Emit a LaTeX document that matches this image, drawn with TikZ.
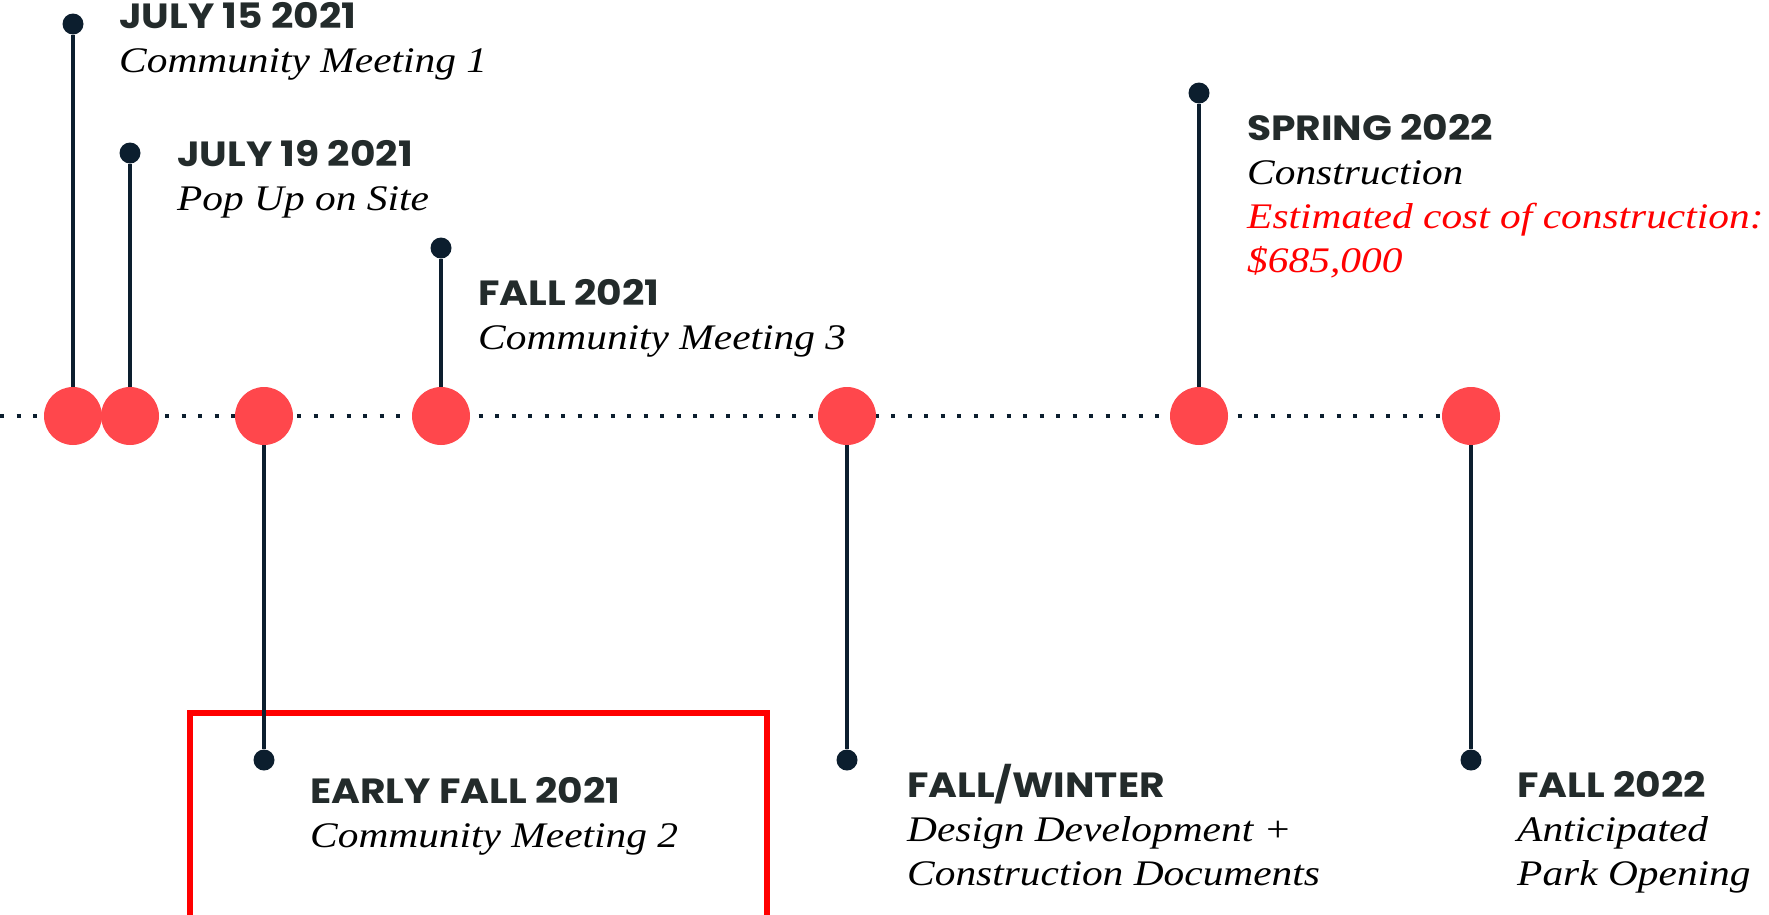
\documentclass[tikz,border=0pt]{standalone}
\usepackage{fontspec}
\newfontfamily\datefont{Poppins}[FakeStretch=1.12]
\newfontfamily\descfont{Liberation Serif}[FakeStretch=1.15]
\usetikzlibrary{backgrounds}
\definecolor{rouge}{HTML}{FF474C}
\definecolor{marine}{HTML}{0C1E2E}
\definecolor{ardoise}{HTML}{232B2B}
\definecolor{vif}{HTML}{FF0000}
\newcommand{\jalon}[1]{{\datefont\upshape\bfseries\fontsize{35}{44}\selectfont\color{ardoise}#1}}
\begin{document}
\begin{tikzpicture}[x=1pt, y=-1pt]
	\tikzset{noeud/.style={circle, fill=rouge, minimum size=58pt, inner sep=0pt},
	pastille/.style={circle, fill=marine, minimum size=21pt, inner sep=0pt},
	tige/.style={marine, line width=4.3pt},
	pointilles/.style={marine, line width=4pt, dash pattern=on 4pt off 12.5pt},
	etiquette/.style={anchor=base west, inner sep=0pt, font=\descfont\fontsize{36}{44}\selectfont\itshape}};

	\useasboundingbox (0,0) rectangle (1769,914);
	\coordinate (debut) at (0,416);

	\begin{pgfonlayer}{background}
		\draw[vif, line width=5.5pt] (190,930) -- (190,713) -- (767,713) -- (767,930);
	\end{pgfonlayer}

	\foreach \name/\x/\y in {a/73/24, b/130/153, c/264/760, d/441/248,
		e/847/760, f/1199/93, g/1471/760}{
			\node[noeud] (\name) at (\x, 416) {};
			\node[pastille] (p-\name) at (\x, \y) {};
			\begin{pgfonlayer}{background}
				\draw[tige] (p-\name) -- (\name);
			\end{pgfonlayer}
	}

	\begin{pgfonlayer}{background}
		\draw[pointilles] (debut) -- (g);
	\end{pgfonlayer}

	\node[etiquette] (t-a) at (119,28) {\begin{tabular}[t]{@{}l@{}}\jalon{JULY 15 2021}\\ Community Meeting 1\end{tabular}};
	\node[etiquette] (t-b) at (177,166) {\begin{tabular}[t]{@{}l@{}}\jalon{JULY 19 2021}\\ Pop Up on Site\end{tabular}};
	\node[etiquette] (t-d) at (478,305) {\begin{tabular}[t]{@{}l@{}}\jalon{FALL 2021}\\ Community Meeting 3\end{tabular}};
	\node[etiquette] (t-f) at (1247,140) {\begin{tabular}[t]{@{}l@{}}\jalon{SPRING 2022}\\ Construction\\
		\textcolor{vif}{Estimated cost of construction:}\\ \textcolor{vif}{\$685,000}\end{tabular}};
	\node[etiquette] (t-c) at (310,803) {\begin{tabular}[t]{@{}l@{}}\jalon{EARLY FALL 2021}\\ Community Meeting 2\end{tabular}};
	\node[etiquette] (t-e) at (907,797) {\begin{tabular}[t]{@{}l@{}}\jalon{FALL/WINTER}\\ Design Development +\\ Construction Documents\end{tabular}};
	\node[etiquette] (t-g) at (1517,797) {\begin{tabular}[t]{@{}l@{}}\jalon{FALL 2022}\\ Anticipated\\ Park Opening\end{tabular}};

\end{tikzpicture}
\end{document}
